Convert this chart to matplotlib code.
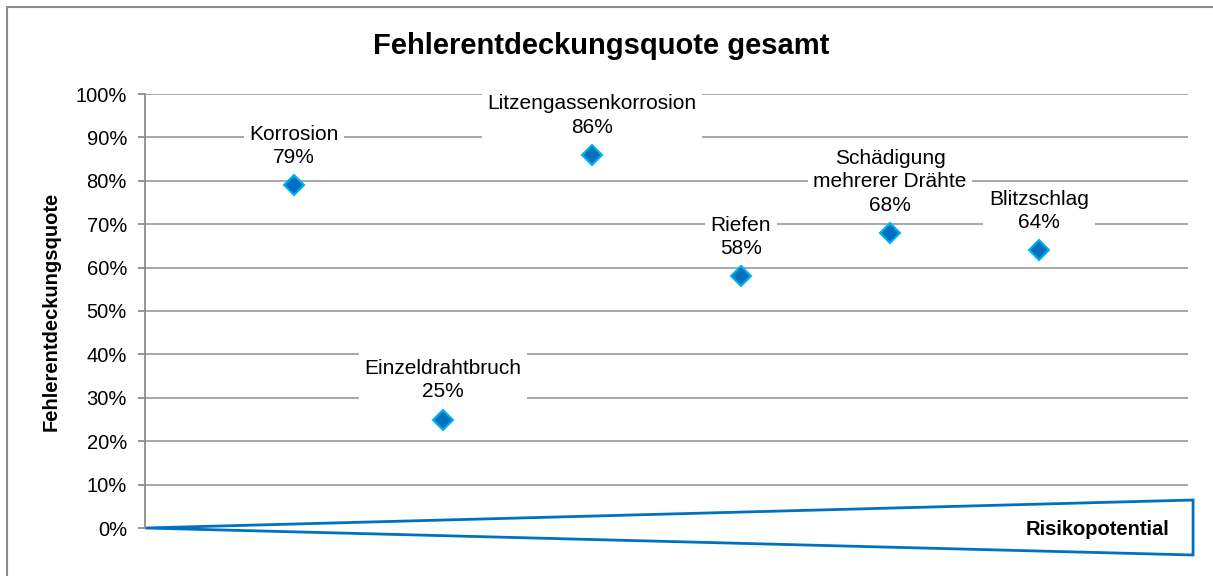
import numpy as np
import matplotlib.pyplot as plt
from matplotlib.patches import Polygon, Rectangle

plt.rcParams['font.family'] = ['Liberation Sans', 'DejaVu Sans']

categories = ['Korrosion', 'Einzeldrahtbruch', 'Litzengassenkorrosion', 'Riefen',
              'Schädigung\nmehrerer Drähte', 'Blitzschlag']
quote = [79, 25, 86, 58, 68, 64]
yticks = [0, 10, 20, 30, 40, 50, 60, 70, 80, 90, 100]

fig = plt.figure(figsize=(12.13, 5.76), dpi=100)
ax = fig.add_axes([145 / 1213, 1 - 528 / 576, (1188 - 145) / 1213, (528 - 94) / 576])

# figure border (only top/left visible in the crop)
fig.patches.append(Rectangle((7 / 1213, -0.2), 1.2, 1.2 - 7 / 576, transform=fig.transFigure,
                             fill=False, edgecolor='#8c8c8c', linewidth=1.5))

x = np.arange(1, len(quote) + 1)
ax.set_xlim(0, 7)
ax.set_ylim(0, 100)
ax.set_yticks(yticks)
ax.set_yticklabels([f'{v}%' for v in yticks], fontsize=14.5)
ax.set_xticks([])
ax.grid(axis='y', color='#a0a0a0', linewidth=1.3, zorder=0)
ax.set_axisbelow(True)
for s in ['top', 'right', 'bottom']:
    ax.spines[s].set_visible(False)
ax.spines['left'].set_color('#8c8c8c')
ax.spines['left'].set_linewidth(1.3)
ax.tick_params(axis='y', color='#8c8c8c', length=5, width=1.3, pad=8)

# risk wedge
wedge = Polygon([[0, 0], [7.034, 6.45], [7.034, -6.22]], closed=True, facecolor='white',
                edgecolor='#0070c0', linewidth=2, clip_on=False, zorder=2)
ax.add_patch(wedge)
ax.text(6.39, -0.4, 'Risikopotential', fontsize=14.5, fontweight='bold', ha='center',
        va='center', zorder=3, clip_on=False)

ax.plot(x, quote, linestyle='none', marker='D', markersize=10, markerfacecolor='#0070c0',
        markeredgecolor='#00b0f0', markeredgewidth=1.5, zorder=5, clip_on=False)

for xi, q, name in zip(x, quote, categories):
    ax.annotate(f'{name}\n{q}%', (xi, q), xytext=(0, 13), textcoords='offset points',
                ha='center', va='bottom', fontsize=15, linespacing=1.3, zorder=4,
                bbox=dict(facecolor='white', edgecolor='none', pad=4))

fig.text(601 / 1213, 1 - 46 / 576, 'Fehlerentdeckungsquote gesamt', fontsize=21,
         fontweight='bold', ha='center', va='center')
fig.text(51 / 1213, 1 - 311 / 576, 'Fehlerentdeckungsquote', fontsize=14.5,
         fontweight='bold', rotation=90, ha='center', va='center')

fig.savefig('out.png', dpi=100)
